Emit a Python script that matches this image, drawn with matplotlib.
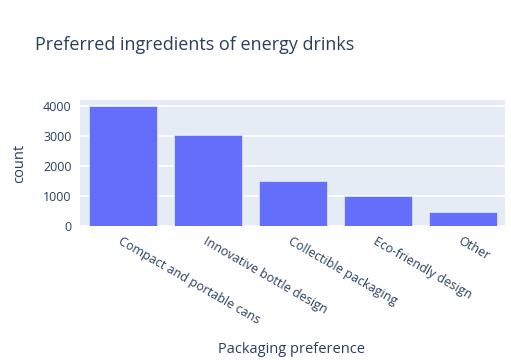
import numpy as np
import matplotlib.pyplot as plt

plt.rcParams['font.family'] = ['Open Sans', 'DejaVu Sans']

# data
packaging = ['Compact and portable cans', 'Innovative bottle design',
             'Collectible packaging', 'Eco-friendly design', 'Other']
counts = [4000, 3050, 1500, 1000, 480]

txt = '#2a3f5f'
fig = plt.figure(figsize=(5.11, 3.6), dpi=100)
ax = fig.add_axes([80/511, 1 - 226/360, 425/511, 126/360])
ax.set_facecolor('#E5ECF6')

x = np.arange(len(packaging))
ax.bar(x, counts, width=0.8, color='#636EFA', edgecolor='#E5ECF6', linewidth=0.5, zorder=3)

ax.set_xlim(-0.5, len(packaging) - 0.5)
ax.set_ylim(0, 4200)
ax.set_yticks([0, 1000, 2000, 3000, 4000])
ax.grid(axis='y', color='white', linewidth=1.2, zorder=0)
for s in ax.spines.values():
    s.set_visible(False)
ax.tick_params(length=0, colors=txt, labelsize=9)
ax.tick_params(axis='y', pad=6)
ax.set_xticks(x)
ax.set_xticklabels(packaging, rotation=-30, ha='left', rotation_mode='anchor')
ax.tick_params(axis='x', pad=6)

ax.set_xlabel('Packaging preference', color=txt, fontsize=10.5)
ax.xaxis.set_label_coords((292 - 80) / 425, -(342 - 226) / 126)
ax.set_ylabel('count', color=txt, fontsize=10.5)
ax.yaxis.set_label_coords(-(80 - 27) / 425, 0.5)

fig.text(35/511, 1 - 45/360, 'Preferred ingredients of energy drinks',
         color=txt, fontsize=13, va='center')

fig.savefig('out.png', dpi=100)
